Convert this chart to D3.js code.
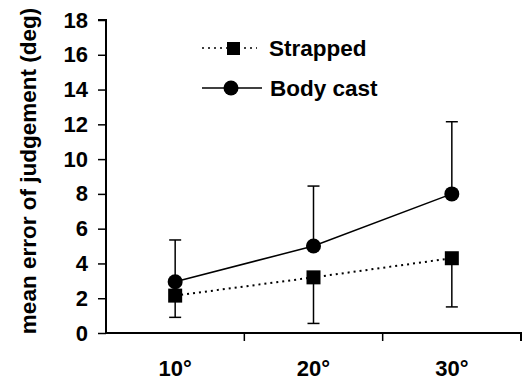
<!DOCTYPE html>
<html>
<head>
<meta charset="utf-8">
<script src="https://cdn.jsdelivr.net/npm/d3@7"></script>
<style>
  body { margin: 0; background: #fff; }
  text { font-family: "Liberation Sans", Arial, sans-serif; font-weight: bold; fill: #000; }
</style>
</head>
<body>
<div id="canvas"></div>
<script>
"use strict"

// DATA
let categories = ["10°", "20°", "30°"];
let strapped = [2.15, 3.2, 4.3];
let strappedErr = [1.25, 2.65, 2.8];   // drawn downward
let bodyCast = [2.95, 5.0, 8.0];
let bodyCastErr = [2.4, 3.45, 4.15];   // drawn upward
let yTicks = [0, 2, 4, 6, 8, 10, 12, 14, 16, 18];

let svgWidth = 523;
let svgHeight = 383;

let svg = d3.select("#canvas")
  .append("svg")
  .attr("width", svgWidth)
  .attr("height", svgHeight);

let xScale = d3.scaleBand()
  .domain(categories)
  .range([106, 521]);

let yScale = d3.scaleLinear()
  .domain([0, 18])
  .range([333, 20]);

let cx = function (i) { return xScale(categories[i]) + xScale.bandwidth() / 2 };

// AXES
let yAxis = svg.append("g")
  .attr("transform", "translate(106,0)")
  .call(d3.axisLeft(yScale).tickValues(yTicks).tickSize(8).tickPadding(10));

let xAxis = svg.append("g")
  .attr("transform", "translate(0,333)")
  .call(d3.axisBottom(xScale).tickSize(0).tickPadding(27));

// tick marks at band boundaries
let bounds = categories.map(function (c) { return xScale(c) + xScale.bandwidth() });
xAxis.selectAll(".bound")
  .data(bounds)
  .join("line")
  .attr("x1", function (d) { return d })
  .attr("x2", function (d) { return d })
  .attr("y1", 0)
  .attr("y2", 8)
  .attr("stroke", "black")
  .attr("stroke-width", 1.5);

svg.selectAll(".domain")
  .attr("stroke", "black")
  .attr("stroke-width", 2);
yAxis.select(".domain").attr("d", "M-8,20H0V333");
xAxis.select(".domain").attr("d", "M106,0H521V8");
svg.selectAll(".tick line").attr("stroke-width", 1.5);
svg.selectAll(".tick text")
  .attr("font-size", null)
  .attr("font-family", null)
  .style("font-size", "22px");

svg.append("text")
  .attr("transform", "translate(36,171) rotate(-90)")
  .attr("text-anchor", "middle")
  .style("font-size", "22.5px")
  .text("mean error of judgement (deg)");

// LINES
let line = d3.line()
  .x(function (d, i) { return cx(i) })
  .y(function (d) { return yScale(d) });

svg.append("path")
  .datum(strapped)
  .attr("d", line)
  .attr("fill", "none")
  .attr("stroke", "black")
  .attr("stroke-width", 2)
  .attr("stroke-dasharray", "2,4");

svg.append("path")
  .datum(bodyCast)
  .attr("d", line)
  .attr("fill", "none")
  .attr("stroke", "black")
  .attr("stroke-width", 1.5);

// ERROR BARS
function errorBars(values, errs, dir) {
  let g = svg.append("g").attr("stroke", "black").attr("stroke-width", 1.5);
  values.forEach(function (v, i) {
    let end = yScale(v + dir * errs[i]);
    g.append("line")
      .attr("x1", cx(i)).attr("x2", cx(i))
      .attr("y1", yScale(v)).attr("y2", end);
    g.append("line")
      .attr("x1", cx(i) - 6).attr("x2", cx(i) + 6)
      .attr("y1", end).attr("y2", end);
  });
}
errorBars(strapped, strappedErr, -1);
errorBars(bodyCast, bodyCastErr, 1);

// MARKERS
svg.selectAll(".sq")
  .data(strapped)
  .join("rect")
  .attr("x", function (d, i) { return cx(i) - 7 })
  .attr("y", function (d) { return yScale(d) - 7 })
  .attr("width", 14)
  .attr("height", 14)
  .attr("fill", "black");

svg.selectAll(".dot")
  .data(bodyCast)
  .join("circle")
  .attr("cx", function (d, i) { return cx(i) })
  .attr("cy", function (d) { return yScale(d) })
  .attr("r", 7.5)
  .attr("fill", "black");

// LEGEND
svg.append("line")
  .attr("x1", 202).attr("x2", 257)
  .attr("y1", 48).attr("y2", 48)
  .attr("stroke", "black")
  .attr("stroke-width", 1.5)
  .attr("stroke-dasharray", "2,4");
svg.append("rect")
  .attr("x", 227).attr("y", 42)
  .attr("width", 13).attr("height", 13)
  .attr("fill", "black");
svg.append("text")
  .attr("x", 269).attr("y", 56)
  .style("font-size", "22.5px")
  .text("Strapped");

svg.append("line")
  .attr("x1", 202).attr("x2", 262)
  .attr("y1", 88).attr("y2", 88)
  .attr("stroke", "black")
  .attr("stroke-width", 1.5);
svg.append("circle")
  .attr("cx", 231).attr("cy", 88)
  .attr("r", 7.5)
  .attr("fill", "black");
svg.append("text")
  .attr("x", 270).attr("y", 96)
  .style("font-size", "22.5px")
  .text("Body cast");
</script>
</body>
</html>
